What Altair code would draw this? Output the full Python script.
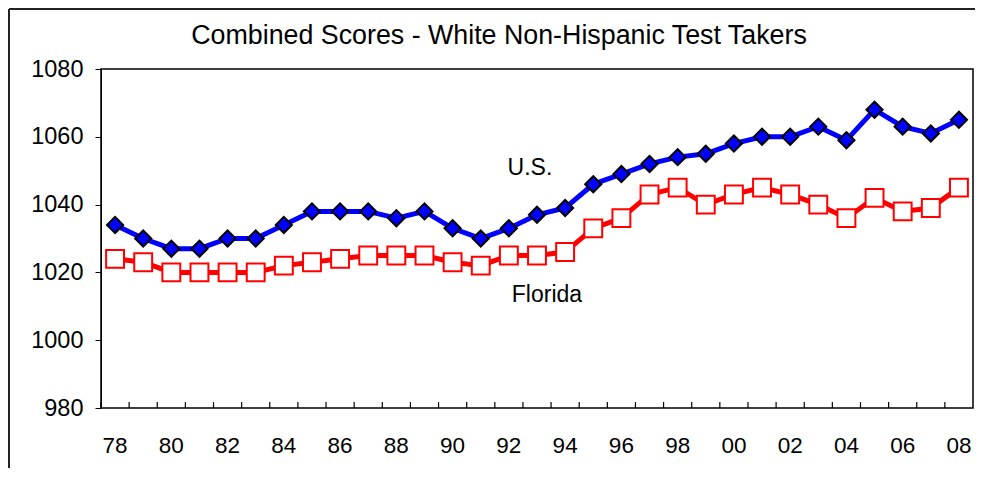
import altair as alt
import pandas as pd

years = ["78", "79", "80", "81", "82", "83", "84", "85", "86", "87", "88", "89",
         "90", "91", "92", "93", "94", "95", "96", "97", "98", "99", "00", "01",
         "02", "03", "04", "05", "06", "07", "08"]
us = [1034, 1030, 1027, 1027, 1030, 1030, 1034, 1038, 1038, 1038, 1036, 1038,
      1033, 1030, 1033, 1037, 1039, 1046, 1049, 1052, 1054, 1055, 1058, 1060,
      1060, 1063, 1059, 1068, 1063, 1061, 1065]
florida = [1024, 1023, 1020, 1020, 1020, 1020, 1022, 1023, 1024, 1025, 1025, 1025,
           1023, 1022, 1025, 1025, 1026, 1033, 1036, 1043, 1045, 1040, 1043, 1045,
           1043, 1040, 1036, 1042, 1038, 1039, 1045]
y_ticks = [980, 1000, 1020, 1040, 1060, 1080]
title_text = "Combined Scores - White Non-Hispanic Test Takers"
annotations = [("U.S.", "93", 1050.8, 7), ("Florida", "93", 1013.3, 24)]

FONT = "Arial, Liberation Sans"
W, H = 872, 339

df = pd.DataFrame({"year": years, "us": us, "florida": florida})
ann = pd.DataFrame({"label": [a[0] for a in annotations],
                    "year": [a[1] for a in annotations],
                    "val": [a[2] for a in annotations],
                    "dx": [a[3] for a in annotations]})

xscale = alt.Scale(domain=years, paddingInner=0, paddingOuter=0)
yscale = alt.Scale(domain=[980, 1080], nice=False, zero=False)

x_axis = alt.Axis(title=None, labelAngle=0, tickSize=0, domain=False, bandPosition=0.5,
                  labelFont=FONT, labelFontSize=22.5, labelColor="black",
                  labelPadding=26, grid=False,
                  labelExpr="parseInt(datum.value) % 2 == 0 ? datum.value : ''")
y_axis = alt.Axis(title=None, values=y_ticks, grid=False, tickSize=6, format="d",
                  tickColor="black", domainColor="black", labelFont=FONT,
                  labelFontSize=23.5, labelColor="black", labelPadding=12)


def X(field="year:O", **kw):
    return alt.X(field, scale=xscale, sort=None, axis=x_axis, **kw)


def Y(field):
    return alt.Y(field, scale=yscale, axis=y_axis)


base = alt.Chart(df)

us_line = base.mark_line(color="#0000FF", strokeWidth=5).encode(x=X(), y=Y("us:Q"))
us_pts = base.mark_point(shape="diamond", filled=True, fill="#0000FF",
                         stroke="black", strokeWidth=2, size=260, opacity=1).encode(
    x=X(), y=Y("us:Q"))
fl_line = base.mark_line(color="#FF0000", strokeWidth=5).encode(x=X(), y=Y("florida:Q"))
fl_pts = base.mark_point(shape="square", filled=True, fill="white",
                         stroke="#FF0000", strokeWidth=2, size=320, opacity=1).encode(
    x=X(), y=Y("florida:Q"))

ticks = base.mark_rule(color="black", strokeWidth=1.2).encode(
    x=X(bandPosition=0), y=alt.value(H), y2=alt.value(H - 6))

labels = alt.Chart(ann).mark_text(font=FONT, fontSize=23, color="black",
                                  align="center", baseline="middle").encode(
    x=X(), y=Y("val:Q"),
    xOffset=alt.XOffset("dx:Q", scale=None),
    text="label:N")

border_df = pd.DataFrame({"t": [title_text]})
left_border = alt.Chart(border_df).mark_rule(color="#222222", strokeWidth=2).encode(
    x=alt.value(-92), y=alt.value(-60), y2=alt.value(H + 60))
top_border = alt.Chart(border_df).mark_rule(color="#222222", strokeWidth=2).encode(
    x=alt.value(-92), x2=alt.value(W + 10), y=alt.value(-60))
title = alt.Chart(border_df).mark_text(font=FONT, fontSize=26.8, color="black",
                                       align="center", baseline="middle").encode(
    x=alt.value(398), y=alt.value(-33), text="t:N")

chart = alt.layer(left_border, top_border, title, fl_line, us_line, fl_pts, us_pts,
                  ticks, labels).properties(
    width=W, height=H,
    autosize=alt.AutoSizeParams(type="none"),
    padding={"left": 93, "top": 61, "right": 2, "bottom": 60},
).configure(background="white", view=alt.ViewConfig(stroke="black", strokeWidth=1.5))

chart.save("out.html", embed_options={"renderer": "svg", "actions": False})
